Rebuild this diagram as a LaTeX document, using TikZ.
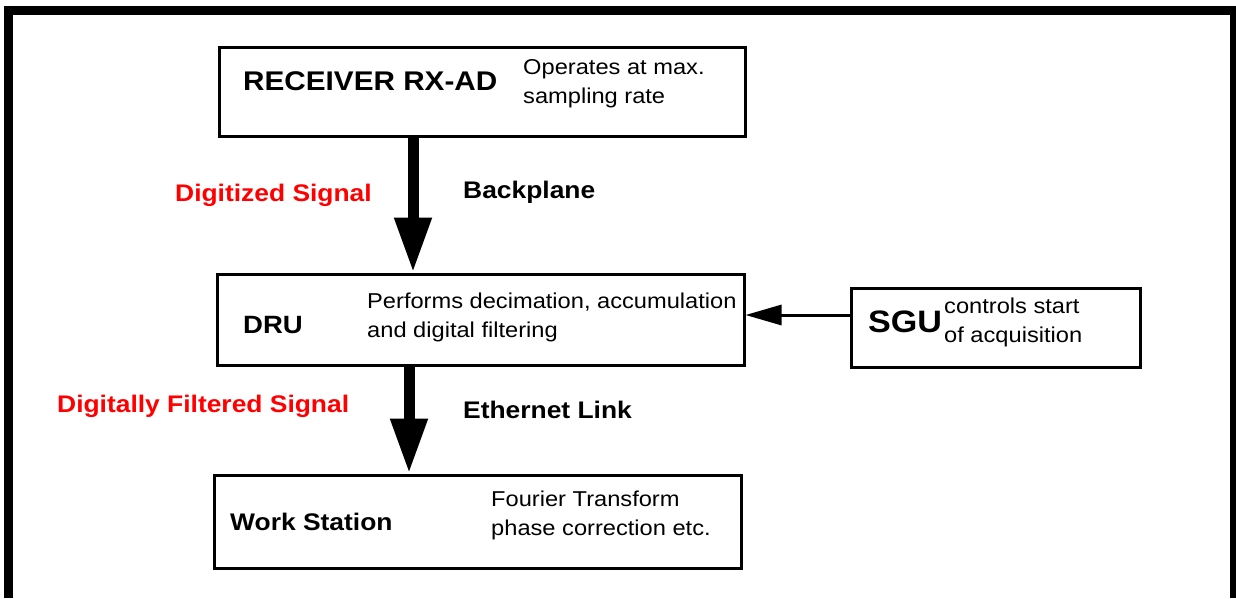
\documentclass[tikz,border=0pt]{standalone}
\usepackage{fontspec}
\usepackage{xcolor}
\setmainfont[FakeStretch=1.1]{Liberation Sans}
\usetikzlibrary{arrows.meta}
\definecolor{sigred}{RGB}{255,0,0}
\tikzset{
    box/.style={draw, rectangle, line width=3pt, inner sep=0pt},
    boxtitle/.style={anchor=west, inner sep=0pt, font=\bfseries\fontsize{25}{29}\selectfont},
    linktext/.style={anchor=west, inner sep=0pt, font=\bfseries\fontsize{24}{28}\selectfont},
    boxnote/.style={anchor=west, inner sep=0pt, align=left, font=\fontsize{21.5}{29}\selectfont},
    bigarrow/.style={line width=11pt, -{Triangle[length=55pt, width=35pt]}},
    link/.style={line width=3pt, -{Triangle[length=36pt, width=20pt]}}
}

\begin{document}
\begin{tikzpicture}[x=1pt, y=-1pt, line join=miter]
        \useasboundingbox (0,0) rectangle (1236,598);
        \draw[line width=9pt] (8.5,598) -- (8.5,10.5) -- (1234.5,10.5) -- (1234.5,598);

        \node (rx)  at (482.0,  91.5) [box, minimum width=526pt, minimum height=89pt] {};
        \node (dru) at (480.5, 319.5) [box, minimum width=527pt, minimum height=91pt] {};
        \node (sgu) at (995.5, 327.5) [box, minimum width=289pt, minimum height=79pt] {};
        \node (ws)  at (477.5, 521.5) [box, minimum width=527pt, minimum height=93pt] {};

        \node (rxname)  at (243,  81) [boxtitle, font=\bfseries\fontsize{27}{31}\selectfont] {RECEIVER RX-AD};
        \node (rxnote)  at (523,  84) [boxnote] {Operates at max.\\sampling rate};
        \node (druname) at (243, 325) [boxtitle] {DRU};
        \node (drunote) at (367, 317) [boxnote] {Performs decimation, accumulation\\and digital filtering};
        \node (sguname) at (868, 322) [boxtitle, font=\bfseries\fontsize{31}{35}\selectfont] {SGU};
        \node (sgunote) at (944, 322) [boxnote] {controls start\\of acquisition};
        \node (wsname)  at (230, 522) [linktext] {Work Station};
        \node (wsnote)  at (491, 515) [boxnote] {Fourier Transform\\phase correction etc.};

        \node (sig1) at (175, 195) [linktext, text=sigred] {Digitized Signal};
        \node (bus1) at (463, 192) [linktext] {Backplane};
        \node (sig2) at ( 57, 406) [linktext, text=sigred] {Digitally Filtered Signal};
        \node (bus2) at (463, 410) [linktext] {Ethernet Link};

        \coordinate (a1) at (413, 0);
        \coordinate (a2) at (409, 0);
        \coordinate (lk) at (0, 315);

        \draw[bigarrow] (rx.south -| a1) -- (dru.north -| a1);
        \draw[bigarrow] (dru.south -| a2) -- (ws.north -| a2);
        \draw[link] (sgu.west |- lk) -- (dru.east |- lk);
    \end{tikzpicture}
\end{document}
